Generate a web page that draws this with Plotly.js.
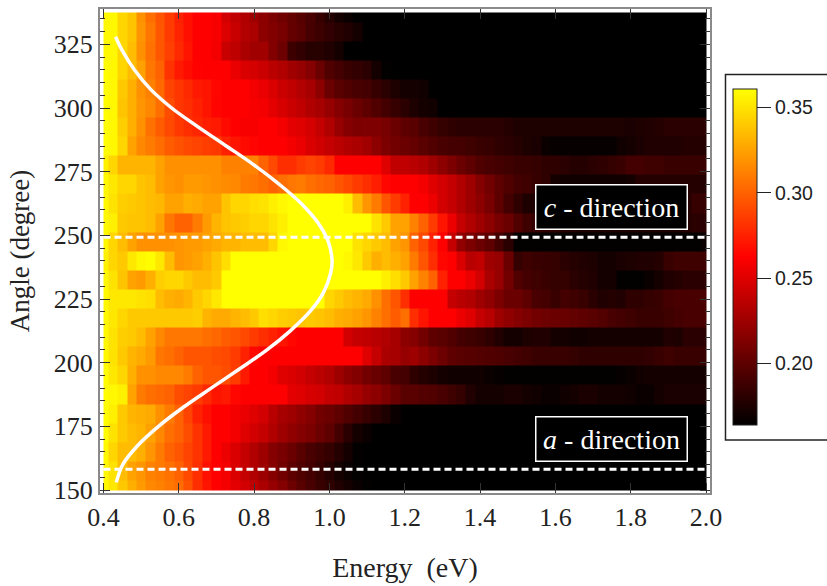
<!DOCTYPE html>
<html><head><meta charset="utf-8">
<script src="https://cdn.plot.ly/plotly-3.0.1.min.js"></script>
<style>html,body{margin:0;padding:0;background:#fff;overflow:hidden}</style></head>
<body><div id="chart" style="width:827px;height:586px"></div>
<script>
// Energy centres (eV)
const energies = [0.4,0.425,0.45,0.475,0.5,0.525,0.55,0.575,0.6,0.625,
0.65,0.675,0.7,0.725,0.75,0.775,0.8,0.825,0.85,0.875,
0.9,0.925,0.95,0.975,1.0,1.025,1.05,1.075,1.1,1.125,
1.15,1.175,1.2,1.225,1.25,1.275,1.3,1.325,1.35,1.375,
1.4,1.425,1.45,1.475,1.5,1.525,1.55,1.575,1.6,1.625,
1.65,1.675,1.7,1.725,1.75,1.775,1.8,1.825,1.85,1.875,
1.9,1.925,1.95,1.975,2.0];
const angles = [150,157.5,165,172.5,180,187.5,195,202.5,210,217.5,225,232.5,240,247.5,255,262.5,270,277.5,285,292.5,300,307.5,315,322.5,330,337.5];
// Reflectance x1000, one row per angle
const r150 = [358,352,340,330,322,315,312,308,304,294,
280,270,262,258,252,245,238,230,222,215,
206,198,192,186,182,176,172,168,165,164,
164,164,164,164,164,164,164,164,164,164,
164,164,164,164,164,164,164,164,164,164,
164,164,164,164,164,164,164,164,164,164,
164,164,164,164,164];
const r157 = [358,350,335,325,320,312,310,306,300,290,
280,268,262,258,248,240,232,224,216,208,
200,195,190,184,178,172,168,165,164,164,
164,164,164,164,164,164,164,164,164,164,
164,164,164,164,164,164,164,164,164,164,
164,164,164,164,164,164,164,164,164,164,
164,164,164,164,164];
const r165 = [358,345,335,335,330,320,310,300,295,288,
282,272,262,255,248,240,232,225,215,210,
205,198,192,188,184,178,172,165,164,164,
164,164,164,164,164,164,164,164,164,164,
164,164,164,164,164,164,164,164,164,164,
164,164,164,164,164,164,164,164,164,164,
164,164,164,164,164];
const r172 = [360,350,340,335,332,325,315,305,300,292,
282,272,262,262,258,250,245,240,232,225,
220,215,212,205,200,190,180,172,168,164,
164,164,164,164,164,164,164,164,164,164,
164,164,164,164,164,164,164,164,164,164,
164,164,164,164,164,164,164,164,164,164,
164,164,164,164,164];
const r180 = [360,355,340,332,330,328,318,310,300,288,
275,268,262,262,258,254,250,245,235,228,
225,220,215,208,205,200,195,190,185,180,
175,168,164,164,164,164,164,164,164,164,
164,164,164,164,164,164,164,164,164,164,
164,164,164,164,164,164,164,164,164,164,
164,164,164,164,164];
const r187 = [360,358,355,325,310,305,303,300,292,288,
285,278,270,272,265,262,262,262,262,262,
252,250,247,245,240,238,232,228,222,218,
212,205,198,198,196,195,192,188,184,176,
172,172,172,174,174,172,170,168,168,170,
172,174,174,172,172,172,170,168,168,172,
174,174,174,174,174];
const r195 = [360,352,345,330,318,318,315,315,315,310,
300,295,295,292,285,272,262,262,258,250,
248,245,240,236,232,225,218,214,208,204,
200,192,190,182,178,175,172,170,170,170,
170,168,166,165,165,165,165,165,165,165,
165,165,165,165,165,166,168,170,172,172,
172,172,172,172,172];
const r202 = [358,350,340,332,328,322,308,305,300,295,
295,295,292,290,285,275,265,262,262,262,
262,262,262,262,262,262,262,262,250,240,
230,228,222,225,218,212,206,200,198,197,
196,195,194,192,190,188,186,186,186,186,
184,182,182,182,182,182,182,182,183,186,
188,186,186,186,186];
const r210 = [358,350,342,340,335,325,315,308,308,308,
308,305,302,298,295,290,285,280,275,270,
265,262,262,262,262,262,245,240,238,235,
232,228,218,215,208,200,198,195,190,188,
186,182,176,172,172,175,176,176,172,172,
170,170,172,172,172,172,172,172,172,172,
176,175,180,180,180];
const r217 = [358,352,345,340,340,340,340,340,340,340,
342,332,328,328,332,335,340,348,345,342,
340,338,340,338,335,330,328,325,320,312,
305,298,305,280,270,262,262,262,255,250,
240,235,225,220,215,212,208,206,205,204,
202,200,198,196,192,190,188,186,186,186,
188,190,192,192,192];
const r225 = [358,352,352,352,350,348,335,330,328,332,
340,345,352,361,361,361,361,361,361,361,
361,361,361,361,345,340,335,332,328,318,
305,295,280,262,262,262,262,240,235,232,
225,220,212,205,205,200,192,190,186,190,
188,186,180,176,178,176,182,182,184,186,
190,192,192,192,192];
const r232 = [358,350,338,325,322,330,342,345,345,340,
335,335,340,361,361,361,361,361,361,361,
361,361,361,361,361,361,361,361,361,361,
355,348,340,325,312,300,275,262,262,255,
245,230,222,208,195,190,188,186,184,184,
180,178,176,172,172,165,165,165,168,172,
176,178,180,180,180];
const r240 = [355,345,340,352,358,360,352,335,320,322,
325,330,338,348,361,361,361,361,361,361,
361,361,361,361,361,361,358,352,340,330,
335,330,325,310,295,280,265,262,248,235,
238,225,222,205,184,188,186,185,184,180,
178,176,175,172,172,174,175,176,176,178,
186,188,188,188,188];
const r247 = [358,345,335,325,318,318,318,318,320,322,
322,325,328,332,332,335,335,335,345,358,
361,361,361,361,361,361,361,350,345,340,
335,325,320,300,290,275,262,240,220,212,
205,200,190,180,165,165,165,165,165,165,
165,165,165,165,165,165,165,165,165,165,
165,165,165,165,168];
const r255 = [358,355,340,338,338,335,325,308,300,300,
310,322,332,338,340,342,345,345,350,355,
361,361,361,361,361,361,361,361,361,350,
340,325,325,312,300,285,270,255,240,232,
225,218,210,205,195,188,185,182,180,178,
176,175,175,175,175,175,175,175,175,175,
175,175,178,180,180];
const r262 = [358,350,342,340,338,335,333,325,325,330,
328,325,325,338,345,345,348,350,355,358,
361,361,361,361,361,361,355,335,320,310,
295,285,275,262,262,255,245,240,232,225,
218,210,200,190,182,175,175,175,175,175,
175,175,175,175,175,175,175,175,175,175,
175,175,178,185,185];
const r270 = [358,352,345,345,338,335,325,320,318,322,
322,320,318,316,315,310,308,305,300,305,
308,310,305,302,300,295,290,285,280,274,
265,262,262,262,258,250,245,240,232,225,
215,208,200,195,190,188,185,182,172,170,
170,170,170,170,170,170,172,178,178,178,
178,178,178,178,178];
const r277 = [355,345,332,332,332,332,325,318,318,318,
318,318,318,312,312,312,312,300,290,280,
280,285,288,285,278,262,262,262,262,262,
250,238,238,235,232,225,218,212,205,200,
195,192,190,188,186,186,184,182,182,180,
178,178,180,182,184,186,190,190,188,188,
186,186,186,186,186];
const r285 = [360,358,345,325,315,310,304,298,294,290,
288,286,284,275,270,266,264,262,262,262,
258,254,248,244,240,236,232,230,226,218,
212,208,205,203,198,195,192,190,190,188,
186,185,182,180,178,175,174,168,166,166,
166,166,166,166,166,170,172,174,176,176,
176,176,178,178,178];
const r292 = [360,358,342,330,318,306,298,290,284,280,
277,274,272,266,262,260,260,262,262,258,
252,250,246,240,232,222,215,212,213,213,
210,205,200,198,192,188,184,182,180,180,
180,180,180,178,175,175,175,175,175,175,
175,175,175,175,175,175,174,175,176,178,
180,180,180,180,180];
const r300 = [360,358,338,330,320,315,305,292,283,280,
275,270,264,262,262,262,260,258,252,247,
242,238,232,228,222,215,210,205,200,195,
190,185,180,175,172,170,164,164,164,164,
164,164,164,164,164,164,164,164,164,164,
164,164,164,164,164,164,164,164,164,164,
164,164,164,164,164];
const r307 = [360,358,340,330,318,312,303,288,283,278,
272,270,265,262,262,262,258,254,248,242,
238,233,228,218,205,198,195,192,190,185,
180,175,172,172,170,164,164,164,164,164,
164,164,164,164,164,164,164,164,164,164,
164,164,164,164,164,164,164,164,164,164,
164,164,164,164,164];
const r315 = [360,358,345,335,325,308,300,282,272,267,
263,262,262,262,254,248,246,242,236,232,
226,222,215,205,195,190,186,183,180,172,
165,164,164,164,164,164,164,164,164,164,
164,164,164,164,164,164,164,164,164,164,
164,164,164,164,164,164,164,164,164,164,
164,164,164,164,164];
const r322 = [358,358,345,335,318,306,296,287,278,270,
262,262,258,241,237,230,226,226,214,206,
187,183,179,179,176,172,164,164,164,164,
164,164,164,164,164,164,164,164,164,164,
164,164,164,164,164,164,164,164,164,164,
164,164,164,164,164,164,164,164,164,164,
164,164,164,164,164];
const r330 = [358,358,345,338,320,308,296,285,276,268,
262,262,260,249,241,233,230,218,214,210,
203,199,191,187,183,179,176,172,164,164,
164,164,164,164,164,164,164,164,164,164,
164,164,164,164,164,164,164,164,164,164,
164,164,164,164,164,164,164,164,164,164,
164,164,164,164,164];
const r337 = [358,358,345,338,318,305,295,285,275,268,
262,262,260,245,238,232,225,218,212,207,
202,197,192,185,178,172,168,164,164,164,
164,164,164,164,164,164,164,164,164,164,
164,164,164,164,164,164,164,164,164,164,
164,164,164,164,164,164,164,164,164,164,
164,164,164,164,164];
const rows = [r150,r157,r165,r172,r180,r187,r195,r202,r210,r217,r225,r232,r240,r247,r255,r262,r270,r277,r285,r292,r300,r307,r315,r322,r330,r337];
// White fitted curve
const curveAngle = [153,160,167.5,175,182.5,190,197.5,205,212.5,220,227.5,235,240,247.5,255,262.5,270,277.5,285,292.5,300,307.5,315,322.5,328];
const curveEnergy = [.434,.451,.491,.546,.612,.686,.761,.834,.896,.948,.984,1.003,1.007,.997,.969,.925,.867,.801,.727,.652,.581,.524,.482,.450,.432];
const dashEnergy = [0.4,2.0];
const cAngle = [249.2,249.2];
const aAngle = [158.1,158.1];
const colorTicks = [0.20,0.25,0.30,0.35];

const mids = a => [a[0]].concat(a.slice(1).map((v,i)=>(v+a[i])/2), [a[a.length-1]]);
const W=827,H=586, L=99.5,R=710,T=8.5,B=493;
const serif='"Liberation Serif",serif';
const axisCommon = {showgrid:false,zeroline:false,showline:true,linecolor:'#8a8a8a',linewidth:2,mirror:'allticks',
  ticks:'inside',tickcolor:'#333',tickwidth:1,ticklen:10,tickfont:{family:serif,size:26,color:'#222'}};
const traces=[
 {type:'heatmap',x:mids(energies),y:mids(angles),z:rows.map(r=>r.map(v=>v/1000)),zmin:0.1638,zmax:0.3608,zsmooth:false,hoverinfo:'skip',
  colorscale:[[0,'#000'],[0.5,'#f00'],[1,'#ff0']],
  colorbar:{x:(733-L)/(R-L),xanchor:'left',y:(B-257)/(B-T),yanchor:'middle',lenmode:'pixels',len:336,thickness:24,thicknessmode:'pixels',
   xpad:0,ypad:0,outlinewidth:1,outlinecolor:'#222',tickmode:'array',tickvals:colorTicks,tickformat:'.2f',ticks:'outside',ticklen:14,tickwidth:1,tickcolor:'#222',
   tickfont:{family:'"Liberation Sans",Arial,sans-serif',size:19.5,color:'#222'}}},
 {type:'scatter',mode:'lines',x:curveEnergy,y:curveAngle,line:{color:'#fff',width:3.5,shape:'spline',smoothing:1},hoverinfo:'skip'},
 {type:'scatter',mode:'lines',x:dashEnergy,y:cAngle,line:{color:'#fff',width:3,dash:'7px,4px'},hoverinfo:'skip'},
 {type:'scatter',mode:'lines',x:dashEnergy,y:aAngle,line:{color:'#fff',width:3,dash:'7px,4px'},hoverinfo:'skip'}
];
const note=(txt,y)=>({text:txt,x:1.749,y:y,xref:'x',yref:'y',showarrow:false,bgcolor:'#000',bordercolor:'#fff',borderwidth:1.5,borderpad:0,width:150,height:43,
  font:{family:serif,size:28,color:'#fff'}});
const layout={width:W,height:H,showlegend:false,paper_bgcolor:'#fff',plot_bgcolor:'#fff',
 margin:{l:L,r:W-R,t:T,b:H-B,pad:0},
 xaxis:Object.assign({},axisCommon,{range:[0.4-3.5/376.9,2.0+4/376.9],tickmode:'array',tickvals:[0.4,0.6,0.8,1.0,1.2,1.4,1.6,1.8,2.0],tickformat:'.1f',
   title:{text:'Energy  (eV)',font:{family:serif,size:28,color:'#222'},standoff:26}}),
 yaxis:Object.assign({},axisCommon,{range:[150-3/2.549,337.5+3.5/2.549],tickmode:'array',tickvals:[150,175,200,225,250,275,300,325],
   minor:{dtick:5,tick0:0,ticks:'inside',ticklen:5,tickcolor:'#333',tickwidth:1,showgrid:false},
   title:{text:'Angle (degree)',font:{family:serif,size:27,color:'#222'},standoff:16}}),
 annotations:[note('<i>c</i> - direction',261.1),note('<i>a</i> - direction',169.9)],
 shapes:[{type:'rect',xref:'paper',yref:'paper',layer:'below',x0:(725.5-L)/(R-L),x1:(835-L)/(R-L),y0:(B-440)/(B-T),y1:(B-74)/(B-T),line:{color:'#222',width:1.5},fillcolor:'rgba(0,0,0,0)'}]
};
Plotly.newPlot('chart',traces,layout,{staticPlot:true,displayModeBar:false});
</script></body></html>
